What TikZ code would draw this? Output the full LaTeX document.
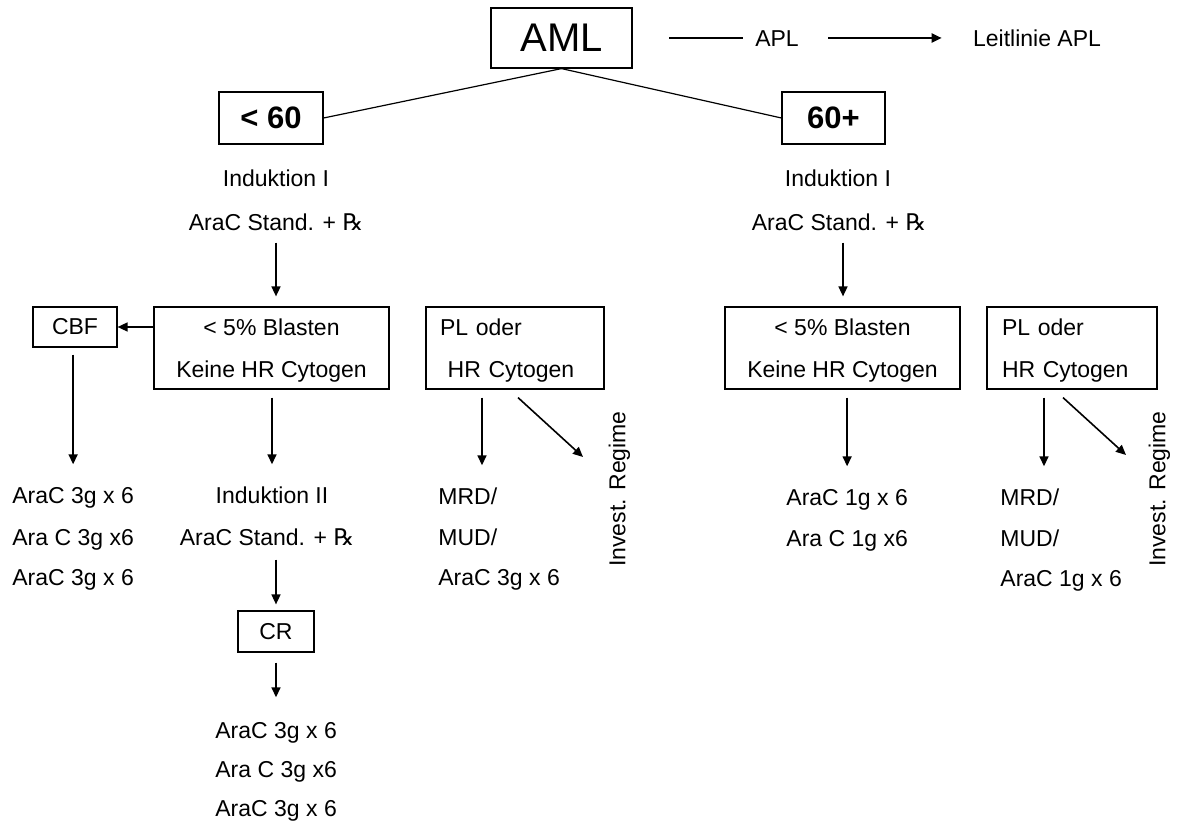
\documentclass[tikz,border=0pt]{standalone}
\usepackage{fontspec}
\setmainfont{Liberation Sans}
\newfontfamily\rxfont{DejaVu Sans}
\usetikzlibrary{arrows.meta}
\newcommand{\rezept}{{\rxfont ℞}}

\tikzset{
  box/.style={draw, line width=0.6pt, font=\fontsize{11.5}{21}\selectfont},
  txt/.style={font=\fontsize{11.5}{21}\selectfont, inner sep=0pt, text height=8.3pt, text depth=0pt},
  arr/.style={-{Triangle[length=5pt,width=4.5pt]}, line width=0.8pt},
}

\begin{document}
\begin{tikzpicture}[x=0.5pt,y=-0.5pt]
        \useasboundingbox (0,0) rectangle (1178,833);
        % top row
        \node[box, font=\fontsize{20}{24}\selectfont, minimum width=70.5pt, minimum height=30pt] (aml) at (561.5,38) {AML};
        \node[box, font=\fontsize{15.5}{18}\selectfont\bfseries, minimum width=52pt, minimum height=26pt] (young) at (271,118) {< 60};
        \node[box, font=\fontsize{15.5}{18}\selectfont\bfseries, minimum width=51.5pt, minimum height=26pt] (old) at (833.5,118) {60+};
        \coordinate (aplstart) at (669,38);
        \node[txt] (apl) at (777,38) {APL};
        \node[txt] (leit) at (1037,38) {Leitlinie APL};
        \draw[line width=0.6pt]
            (aml.south) -- (young.east)
            (aml.south) -- (old.west)
        ;
        \draw[line width=0.6pt, shorten >=6pt] (aplstart) -- (apl.west); %APL
        \draw[arr, line width=1pt, shorten <=14.5pt, shorten >=15.5pt] (apl.east) -- (leit.west);
        % under 60
        \node[txt] (ind1L) at (276,178) {Induktion I};
        \node[txt] (rxL) at (276,222) {AraC Stand. + \rezept};
        \node[box, align=center, text depth=0pt, minimum width=117.5pt, minimum height=41pt] (blastL) at (271.5,348) {< 5\% Blasten\\Keine HR Cytogen};
        \node[box, minimum width=42pt, minimum height=20pt] (cbf) at (75,327) {CBF};
        \node[box, align=left, text height=10.8pt, text width=75pt, inner xsep=7pt, minimum height=41pt] (plL) at (515,348) {PL oder\\~HR Cytogen};
        \node[txt, anchor=west] (cbfA) at (12,495) {AraC 3g x 6};
        \node[txt, anchor=west] (cbfB) at (12,537) {Ara C 3g x6};
        \node[txt, anchor=west] (cbfC) at (12,577) {AraC 3g x 6};
        \node[txt] (ind2) at (272,495) {Induktion II};
        \node[txt] (rx2) at (267,537) {AraC Stand. + \rezept};
        \node[box, minimum width=38pt, minimum height=20.5pt] (cr) at (276,631.5) {CR};
        \node[txt, anchor=west] (crA) at (215,730) {AraC 3g x 6};
        \node[txt, anchor=west] (crB) at (215,769) {Ara C 3g x6};
        \node[txt, anchor=west] (crC) at (215,808) {AraC 3g x 6};
        \node[txt, anchor=west] (mrdL) at (438,496) {MRD/};
        \node[txt, anchor=west] (mudL) at (438,537) {MUD/};
        \node[txt, anchor=west] (hdL) at (438,577) {AraC 3g x 6};
        \node[txt, rotate=90] (invL) at (617,489) {Invest. Regime};
        \coordinate (plLout) at ([xshift=-16.5pt]plL.south);
        \coordinate (plLdiag) at ([xshift=1.5pt,yshift=-4pt]plL.south);
        \coordinate (invLtip) at (583,457);
        \draw[arr, shorten <=6pt, shorten >=5pt] (rxL.south) -- (rxL.south |- blastL.north);
        \draw[arr] (blastL.west |- cbf.east) -- (cbf.east); %to CBF
        \draw[arr, shorten <=3.5pt, shorten >=11pt] (cbfA.north |- cbf.south) -- (cbfA.north);
        \draw[arr, shorten <=4pt, shorten >=11pt] (ind2.north |- blastL.south) -- (ind2.north);
        \draw[arr, shorten <=7pt, shorten >=3pt] (cr.north |- rx2.south) -- (cr.north);
        \draw[arr, shorten <=5pt, shorten >=12pt] (cr.south) -- (cr.south |- crA.north);
        \draw[arr, shorten <=4pt, shorten >=11pt] (plLout) -- (plLout |- mrdL.north);
        \draw[arr] (plLdiag) -- (invLtip);
        % 60 and older
        \node[txt] (ind1R) at (838,178) {Induktion I};
        \node[txt] (rxR) at (839,222) {AraC Stand. + \rezept};
        \node[box, align=center, text depth=0pt, minimum width=117.5pt, minimum height=41pt] (blastR) at (842.5,348) {< 5\% Blasten\\Keine HR Cytogen};
        \node[box, align=left, text height=10.8pt, text width=70pt, inner xsep=7.5pt, minimum height=41pt] (plR) at (1072,348) {PL oder\\HR Cytogen};
        \node[txt, anchor=west] (r1A) at (786,497) {AraC 1g x 6};
        \node[txt, anchor=west] (r1B) at (786,538) {Ara C 1g x6};
        \node[txt, anchor=west] (mrdR) at (1000,497) {MRD/};
        \node[txt, anchor=west] (mudR) at (1000,538) {MUD/};
        \node[txt, anchor=west] (hdR) at (1000,578) {AraC 1g x 6};
        \node[txt, rotate=90] (invR) at (1157,489) {Invest. Regime};
        \coordinate (plRout) at ([xshift=-14pt]plR.south);
        \coordinate (plRdiag) at ([xshift=-4.5pt,yshift=-4pt]plR.south);
        \coordinate (invRtip) at (1126,455);
        \draw[arr, shorten <=6pt, shorten >=5pt] ([xshift=2pt]rxR.south) -- ([xshift=2pt]rxR.south |- blastR.north);
        \draw[arr, shorten <=4pt, shorten >=11pt] (r1A.north |- blastR.south) -- (r1A.north);
        \draw[arr, shorten <=4pt, shorten >=11pt] (plRout) -- (plRout |- mrdR.north);
        \draw[arr] (plRdiag) -- (invRtip);
\end{tikzpicture}
\end{document}
